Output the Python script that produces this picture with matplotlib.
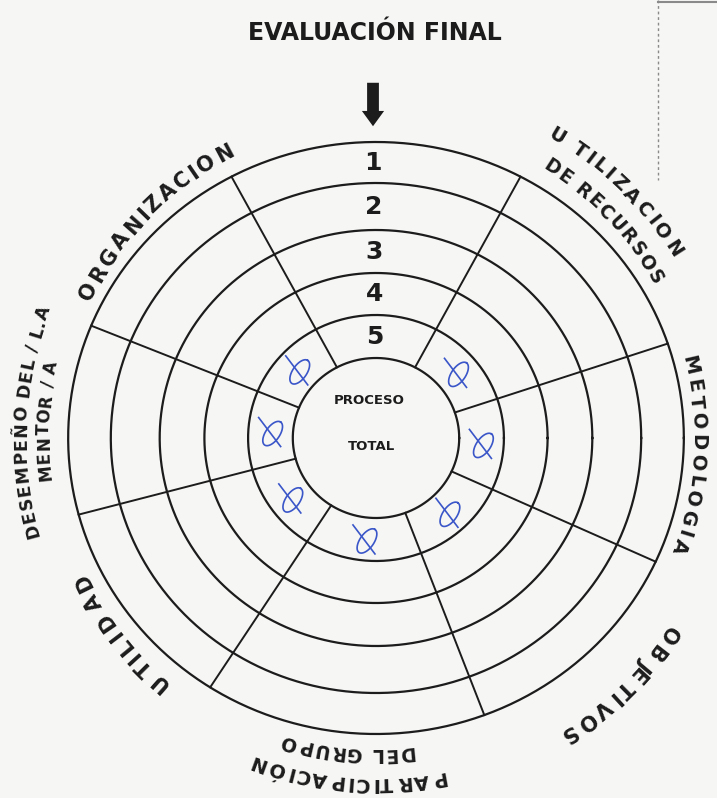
import numpy as np
import matplotlib
matplotlib.use("Agg")
import matplotlib.pyplot as plt
from matplotlib.font_manager import FontProperties
from matplotlib.textpath import text_to_path

# datos de la rueda
niveles = [1, 2, 3, 4, 5]
categorias = ["UTILIZACION DE RECURSOS", "METODOLOGIA", "OBJETIVOS",
              "PARTICIPACION DEL GRUPO", "UTILIDAD", "DESEMPEÑO DEL/LA MENTOR/A",
              "ORGANIZACION"]
puntajes = [5, 5, 5, 5, 5, 5, 5]
# limites de los sectores (grados, sentido horario); 118 -> 62 es el sector de los numeros
sector_numeros = (118, 62)
bordes = [62, 18.6, -24.7, -69.4, -122.6, -165, -202.3, -242]
# radios de los anillos, de fuera hacia dentro
radios = [296, 255, 208, 165, 123, 80]

# etiquetas curvas: texto, angulo inicio, angulo fin, radio, tamaño
etiquetas = [
    ("ORGANIZACION", 153, 118, 322, 15),
    ("U TILIZACION", 59, 32.5, 352, 14),
    ("DE RECURSOS", 57, 30, 322, 13.5),
    ("METODOLOGIA", 13, -19.6, 322, 14),
    ("OBJETIVOS", -34, -57, 352, 15),
    ("PARTICIPACIÓN", -79.6, -110, 345, 14),
    ("DEL GRUPO", -84.5, -106, 316, 13.5),
    ("UTILIDAD", 228.4, 206.2, 326, 15),
    ("DESEMPEÑO DEL / L.A", 195, 159.4, 355, 12.5),
    ("MENTOR / A", 186, 167.8, 332, 12),
]

CX, CY, SX = 376, 438, 1.04
tinta = "#1c1c1c"
azul = "#3a56c8"


def punto(r, a):
    a = np.radians(a)
    return CX + SX * r * np.cos(a), CY - r * np.sin(a)


fig = plt.figure(figsize=(7.17, 7.98), dpi=100, facecolor="#f6f6f4")
ax = fig.add_axes([0, 0, 1, 1])
ax.set_xlim(0, 717)
ax.set_ylim(798, 0)
ax.axis("off")

# circulos
t = np.linspace(0, 360, 400)
for r in radios:
    x, y = punto(r, t)
    ax.plot(x, y, color=tinta, lw=1.6)

# radios de los sectores
for b in bordes:
    x, y = punto(np.array([radios[-1], radios[0]]), b)
    ax.plot(x, y, color=tinta, lw=1.4)

# numeros de nivel en el sector superior
for i, n in enumerate(niveles):
    r = (radios[i] + radios[i + 1]) / 2
    x, y = punto(r, sum(sector_numeros) / 2 + 0.6)
    ax.text(x, y, str(n), ha="center", va="center", fontsize=18,
            fontweight="bold", color=tinta)

# flecha
ax.annotate("", xy=(373, 129), xytext=(373, 80),
            arrowprops=dict(arrowstyle="simple,head_width=1.6,head_length=1.1,tail_width=0.85",
                            color=tinta, lw=0))

# titulo
ax.text(375, 33, "EVALUACIÓN FINAL", ha="center", va="center", fontsize=17,
        fontweight="bold", color=tinta)

# centro
ax.text(369, 401, "PROCESO", ha="center", va="center", fontsize=9.5,
        fontweight="bold", color=tinta)
ax.text(371, 447, "TOTAL", ha="center", va="center", fontsize=9.5,
        fontweight="bold", color=tinta)

# marcas azules (puntaje de cada categoria)
u = np.linspace(0, 2 * np.pi, 60)
for k, s in enumerate(puntajes):
    a_mid = (bordes[k] + bordes[k + 1]) / 2
    r = (radios[s - 1] + radios[s]) / 2
    mx, my = punto(r, a_mid)
    lx, ly = 14 * np.cos(u), 7 * np.sin(u)
    c, sn = np.cos(np.radians(55)), np.sin(np.radians(55))
    ax.plot(mx + 2 + lx * c - ly * sn, my + 2 - (lx * sn + ly * c), color=azul, lw=1.2)
    ax.plot([mx - 12, mx + 10], [my - 14, my + 15], color=azul, lw=1.2)

# etiquetas curvas
for texto, a0, a1, r, fs in etiquetas:
    fp = FontProperties(family="DejaVu Sans", weight="bold", size=fs)
    w = np.array([text_to_path.get_text_width_height_descent(ch, fp, ismath=False)[0]
                  for ch in texto])
    cen = np.cumsum(w) - w / 2
    f = (cen - cen[0]) / (cen[-1] - cen[0])
    for ch, fr in zip(texto, f):
        a = a0 + (a1 - a0) * fr
        x = CX + r * np.cos(np.radians(a))
        y = CY - r * np.sin(np.radians(a))
        ax.text(x, y, ch, rotation=a - 90, rotation_mode="anchor", ha="center",
                va="center", fontsize=fs, fontweight="bold", color=tinta)

# borde punteado de la esquina (escaneo)
ax.plot([658, 658], [0, 180], color="#8a8a8a", lw=1, ls=(0, (2, 2)))
ax.plot([658, 717], [2, 2], color="#8a8a8a", lw=1.5)

plt.savefig("out.png", dpi=100, facecolor=fig.get_facecolor())
